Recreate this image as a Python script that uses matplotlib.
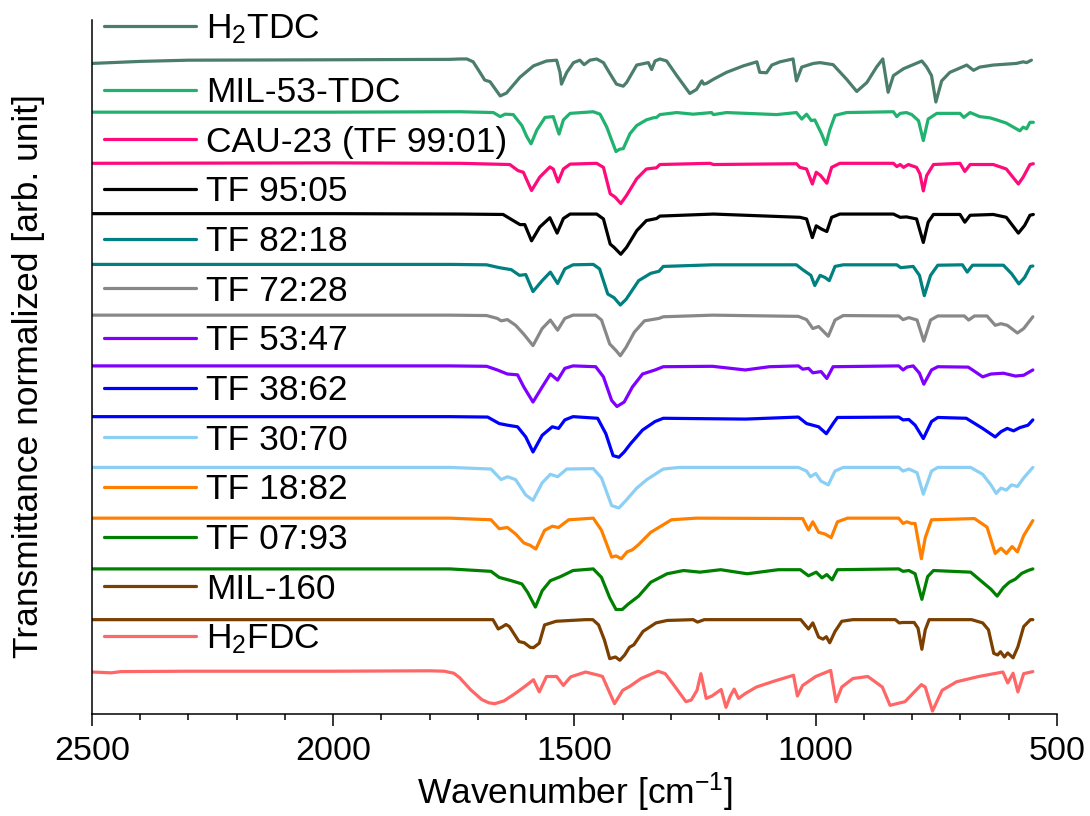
import matplotlib
matplotlib.use("Agg")
import matplotlib.pyplot as plt
from matplotlib.ticker import MultipleLocator

plt.rcParams['font.family'] = ['Liberation Sans', 'DejaVu Sans']
plt.rcParams['mathtext.fontset'] = 'custom'
plt.rcParams['mathtext.rm'] = 'Liberation Sans'
plt.rcParams['mathtext.it'] = 'Liberation Sans:italic'
plt.rcParams['mathtext.default'] = 'regular'

# normalized transmittance (1 = baseline, 0 = deepest band)
h2tdc_wn = [2500, 2400, 2300, 2000, 1760, 1737, 1723, 1710, 1696, 1686, 1675, 1654, 1641, 1613, 1585, 1558, 1537, 1530, 1527,
            1516, 1502, 1489, 1480, 1468, 1454, 1440, 1426, 1413, 1399, 1392, 1371, 1347, 1340, 1333, 1323, 1309, 1288,
            1261, 1247, 1236, 1232, 1226, 1212, 1185, 1150, 1122, 1116, 1102, 1091, 1074, 1047, 1040, 1029, 1005, 991,
            964, 936, 915, 894, 874, 861, 850, 839, 818, 780, 770, 760, 751, 739, 722, 687, 673, 660, 632, 584, 570,
            563, 553]
h2tdc_t = [0.95, 1.0, 1.03, 1.04, 1.05, 1.06, 1.06, 0.99, 0.73, 0.54, 0.50, 0.15, 0.22, 0.61, 0.89, 1.01, 1.03, 0.73, 0.44,
           0.73, 0.97, 1.03, 0.92, 1.03, 1.06, 0.97, 0.69, 0.44, 0.39, 0.48, 0.91, 0.97, 0.80, 1.01, 1.06, 1.01, 0.65,
           0.21, 0.31, 0.52, 0.44, 0.46, 0.56, 0.73, 0.89, 0.99, 0.73, 0.72, 0.91, 0.99, 1.06, 0.52, 0.86, 0.95, 0.97,
           0.92, 0.56, 0.26, 0.48, 0.86, 1.06, 0.24, 0.65, 0.82, 1.01, 0.86, 0.65, 0.0, 0.52, 0.73, 0.91, 0.78, 0.86,
           0.91, 0.95, 0.99, 0.97, 1.03]

mil53_wn = [2500, 2000, 1737, 1668, 1654, 1644, 1627, 1609, 1599, 1590, 1578, 1561, 1544, 1532, 1523, 1509, 1461, 1447,
            1433, 1423, 1414, 1406, 1399, 1385, 1371, 1351, 1337, 1330, 1323, 1288, 1254, 1216, 1212, 1185, 1081, 1040,
            1029, 1019, 1009, 1002, 988, 979, 971, 960, 936, 839, 832, 825, 812, 801, 787, 777, 767, 749, 701, 693, 680,
            660, 639, 625, 605, 577, 570, 563, 556, 549]
mil53_t = [1.0, 1.0, 1.01, 0.99, 0.89, 0.95, 0.94, 0.67, 0.40, 0.22, 0.56, 0.87, 0.89, 0.46, 0.81, 0.97, 1.01, 0.95,
           0.63, 0.31, 0.03, 0.09, 0.10, 0.47, 0.67, 0.81, 0.86, 0.87, 0.94, 0.99, 0.95, 0.99, 0.94, 0.99, 0.94, 0.99,
           0.83, 0.95, 0.79, 0.81, 0.47, 0.20, 0.56, 0.92, 0.99, 1.01, 0.89, 0.97, 0.99, 0.94, 0.79, 0.30, 0.83, 0.97,
           0.97, 0.87, 0.99, 0.89, 0.86, 0.81, 0.73, 0.54, 0.63, 0.59, 0.75, 0.75]

cau23_wn = [2500, 2000, 1737, 1634, 1617, 1606, 1589, 1572, 1551, 1544, 1534, 1523, 1509, 1454, 1440, 1426, 1416, 1404,
            1392, 1371, 1351, 1330, 1323, 1219, 1212, 1040, 1033, 1019, 1007, 999, 990, 977, 967, 950, 839, 832, 825,
            818, 808, 791, 784, 777, 770, 756, 701, 691, 680, 632, 605, 580, 570, 556, 549]
cau23_t = [0.99, 1.0, 0.99, 0.96, 0.81, 0.77, 0.32, 0.65, 0.90, 0.85, 0.53, 0.85, 0.97, 0.99, 0.89, 0.24, 0.16, 0.0,
           0.20, 0.61, 0.85, 0.88, 0.96, 0.99, 0.96, 0.98, 0.89, 0.85, 0.48, 0.77, 0.69, 0.50, 0.89, 0.99, 0.99, 0.91,
           0.96, 0.89, 0.96, 0.89, 0.73, 0.31, 0.69, 0.96, 0.99, 0.79, 0.96, 0.96, 0.85, 0.48, 0.65, 0.96, 0.98]

tf9505_wn = [2500, 2000, 1737, 1648, 1627, 1613, 1603, 1589, 1572, 1551, 1536, 1523, 1509, 1454, 1440, 1426, 1418, 1404,
             1392, 1371, 1351, 1330, 1323, 1212, 1033, 1019, 1007, 999, 988, 977, 967, 950, 839, 825, 812, 791, 777,
             767, 756, 701, 691, 680, 632, 605, 580, 567, 556, 549]
tf9505_t = [1.0, 1.0, 0.99, 0.98, 0.83, 0.73, 0.73, 0.33, 0.67, 0.90, 0.52, 0.88, 0.99, 0.99, 0.87, 0.25, 0.17, 0.0,
            0.17, 0.58, 0.83, 0.88, 0.94, 0.99, 0.91, 0.87, 0.41, 0.70, 0.62, 0.56, 0.91, 0.99, 0.99, 0.91, 0.92, 0.87,
            0.29, 0.79, 0.98, 0.98, 0.79, 0.96, 0.98, 0.91, 0.52, 0.71, 0.96, 0.98]

tf8218_wn = [2500, 2000, 1758, 1682, 1656, 1631, 1614, 1601, 1586, 1567, 1550, 1535, 1520, 1503, 1461, 1448, 1431, 1418,
             1405, 1393, 1367, 1342, 1325, 1316, 1214, 1040, 1027, 1010, 1002, 991, 981, 972, 960, 943, 832, 824, 815,
             798, 785, 775, 762, 747, 696, 686, 675, 611, 594, 579, 567, 555, 550]
tf8218_t = [1.0, 1.0, 1.0, 0.99, 0.92, 0.87, 0.73, 0.75, 0.33, 0.60, 0.81, 0.53, 0.89, 0.99, 1.0, 0.89, 0.27, 0.18,
            0.0, 0.14, 0.60, 0.78, 0.83, 0.95, 0.99, 0.99, 0.87, 0.73, 0.48, 0.73, 0.68, 0.60, 0.95, 0.99, 0.99, 0.92,
            0.93, 0.95, 0.73, 0.23, 0.73, 0.98, 0.99, 0.81, 0.98, 0.98, 0.77, 0.52, 0.68, 0.95, 0.96]

tf7228_wn = [2500, 2000, 1758, 1682, 1660, 1652, 1639, 1622, 1605, 1586, 1567, 1550, 1535, 1520, 1503, 1456, 1444, 1427,
             1414, 1405, 1393, 1376, 1355, 1325, 1316, 1214, 1036, 1019, 1006, 994, 974, 960, 943, 828, 819, 807, 790,
             776, 762, 747, 692, 683, 671, 645, 628, 616, 603, 582, 569, 550]
tf7228_t = [1.0, 1.0, 1.0, 0.99, 0.92, 0.86, 0.89, 0.75, 0.53, 0.25, 0.67, 0.88, 0.63, 0.92, 1.0, 1.0, 0.88, 0.29,
            0.13, 0.0, 0.21, 0.58, 0.86, 0.92, 0.96, 1.0, 0.97, 0.89, 0.67, 0.72, 0.48, 0.88, 0.99, 0.98, 0.89, 0.94,
            0.88, 0.36, 0.88, 0.98, 0.98, 0.88, 0.98, 0.98, 0.75, 0.79, 0.75, 0.56, 0.67, 0.96]

tf5347_wn = [2500, 2000, 1758, 1682, 1660, 1639, 1618, 1605, 1586, 1567, 1550, 1535, 1520, 1503, 1456, 1440, 1423, 1412,
             1397, 1380, 1359, 1333, 1316, 1214, 1146, 1096, 1036, 1027, 1015, 1006, 989, 977, 964, 828, 819, 811, 798,
             785, 776, 760, 747, 684, 675, 654, 637, 611, 586, 569, 556, 550]
tf5347_t = [1.0, 1.0, 1.0, 0.99, 0.90, 0.80, 0.78, 0.48, 0.11, 0.48, 0.80, 0.65, 0.94, 1.0, 0.98, 0.73, 0.15, 0.0,
            0.11, 0.48, 0.80, 0.90, 0.98, 0.99, 0.90, 0.98, 1.0, 0.92, 0.94, 0.83, 0.86, 0.69, 0.98, 1.0, 0.90, 0.97,
            1.0, 0.82, 0.55, 0.90, 0.98, 0.97, 0.90, 0.73, 0.80, 0.82, 0.75, 0.77, 0.86, 0.90]

tf3862_wn = [2500, 2000, 1758, 1680, 1656, 1639, 1618, 1601, 1586, 1567, 1546, 1533, 1520, 1503, 1452, 1435, 1420, 1408,
             1397, 1384, 1359, 1333, 1316, 1146, 1036, 1019, 994, 978, 964, 955, 828, 819, 807, 794, 777, 760, 747,
             688, 654, 628, 616, 603, 590, 577, 560, 550]
tf3862_t = [1.0, 1.0, 1.0, 0.99, 0.83, 0.79, 0.75, 0.50, 0.13, 0.54, 0.75, 0.71, 0.92, 1.0, 0.96, 0.58, 0.04, 0.0,
            0.13, 0.33, 0.67, 0.88, 0.96, 0.94, 0.99, 0.83, 0.75, 0.58, 0.83, 0.98, 0.99, 0.92, 0.93, 0.79, 0.46, 0.88,
            0.98, 0.96, 0.71, 0.50, 0.63, 0.71, 0.65, 0.73, 0.79, 0.92]

tf3070_wn = [2500, 2000, 1758, 1673, 1652, 1639, 1622, 1601, 1586, 1567, 1550, 1535, 1516, 1461, 1444, 1423, 1408, 1393,
             1371, 1350, 1316, 1282, 1036, 1019, 1011, 1000, 989, 974, 960, 943, 828, 819, 807, 790, 777, 760, 747, 679,
             654, 637, 626, 616, 605, 594, 582, 569, 550]
tf3070_t = [1.0, 1.0, 1.0, 0.96, 0.70, 0.77, 0.70, 0.32, 0.19, 0.62, 0.83, 0.77, 0.96, 0.97, 0.74, 0.06, 0.0, 0.19,
            0.49, 0.70, 0.96, 1.0, 1.0, 0.91, 0.77, 0.85, 0.66, 0.57, 0.91, 1.0, 1.0, 0.91, 0.96, 0.87, 0.34, 0.91, 1.0,
            1.0, 0.83, 0.57, 0.36, 0.49, 0.44, 0.57, 0.53, 0.74, 1.0]

tf1882_wn = [2500, 2000, 1758, 1673, 1656, 1639, 1622, 1605, 1592, 1580, 1562, 1546, 1533, 1512, 1461, 1444, 1423, 1414,
             1403, 1391, 1380, 1367, 1342, 1299, 1248, 1027, 1015, 1006, 994, 981, 968, 955, 934, 828, 819, 811, 802,
             794, 781, 773, 760, 671, 645, 628, 616, 605, 593, 582, 569, 550]
tf1882_t = [1.0, 1.0, 1.0, 0.96, 0.74, 0.77, 0.61, 0.39, 0.33, 0.24, 0.70, 0.80, 0.77, 0.96, 1.0, 0.70, 0.04, 0.07,
            0.0, 0.17, 0.22, 0.35, 0.65, 0.96, 1.0, 0.99, 0.71, 0.91, 0.65, 0.61, 0.52, 0.91, 1.0, 1.0, 0.87, 0.91,
            0.87, 0.87, 0.0, 0.52, 0.96, 0.99, 0.78, 0.13, 0.26, 0.13, 0.30, 0.17, 0.57, 0.94]

tf0793_wn = [2500, 2000, 1758, 1673, 1656, 1631, 1609, 1597, 1581, 1567, 1550, 1529, 1503, 1461, 1444, 1427, 1414, 1401,
             1389, 1367, 1342, 1308, 1274, 1240, 1197, 1142, 1078, 1032, 1015, 999, 987, 977, 966, 955, 828, 819, 807,
             794, 780, 768, 756, 679, 654, 637, 624, 611, 599, 586, 573, 560, 550]
tf0793_t = [1.0, 1.0, 1.0, 0.94, 0.79, 0.71, 0.63, 0.42, 0.06, 0.46, 0.71, 0.81, 0.96, 1.0, 0.79, 0.29, 0.0, 0.0,
            0.13, 0.33, 0.67, 0.88, 0.96, 0.92, 0.98, 0.88, 0.98, 0.98, 0.83, 0.92, 0.78, 0.86, 0.73, 0.98, 1.0, 0.94,
            0.96, 0.88, 0.25, 0.81, 0.96, 0.92, 0.67, 0.50, 0.33, 0.54, 0.67, 0.75, 0.89, 0.96, 1.0]

mil160_wn = [2500, 2000, 1738, 1669, 1658, 1650, 1642, 1635, 1615, 1604, 1592, 1585, 1573, 1562, 1538, 1508, 1477, 1462,
             1450, 1438, 1427, 1415, 1406, 1396, 1386, 1377, 1358, 1331, 1308, 1254, 1245, 1231, 1031, 1022, 1015, 1006,
             994, 985, 978, 971, 960, 946, 923, 835, 827, 819, 796, 788, 780, 773, 765, 677, 654, 642, 631, 623, 617,
             609, 602, 591, 581, 569, 555, 550]
mil160_t = [1.0, 1.0, 1.0, 1.0, 0.77, 0.82, 0.88, 0.83, 0.46, 0.43, 0.32, 0.31, 0.42, 0.87, 0.96, 0.98, 1.0, 1.0,
            0.87, 0.50, 0.04, 0.08, 0.0, 0.13, 0.32, 0.38, 0.71, 0.92, 0.98, 1.0, 0.94, 1.0, 1.0, 0.87, 0.77, 0.92,
            0.57, 0.52, 0.58, 0.43, 0.71, 0.96, 1.0, 1.0, 0.92, 0.93, 0.93, 0.79, 0.27, 0.75, 1.0, 1.0, 0.92, 0.75,
            0.17, 0.13, 0.21, 0.08, 0.18, 0.06, 0.33, 0.83, 1.0, 1.0]

h2fdc_wn = [2500, 2460, 2440, 2300, 2000, 1800, 1770, 1750, 1738, 1715, 1692, 1677, 1665, 1646, 1623, 1600, 1585, 1573,
            1558, 1537, 1523, 1508, 1477, 1450, 1442, 1417, 1400, 1385, 1362, 1327, 1312, 1296, 1269, 1258, 1246, 1238,
            1227, 1215, 1196, 1186, 1177, 1169, 1160, 1146, 1123, 1085, 1046, 1038, 1027, 1000, 969, 958, 946, 923, 892,
            862, 846, 815, 781, 773, 758, 738, 708, 662, 612, 602, 591, 581, 569, 550]
h2fdc_t = [0.96, 0.94, 0.97, 0.98, 0.98, 0.99, 0.98, 0.93, 0.82, 0.52, 0.28, 0.20, 0.18, 0.25, 0.43, 0.63, 0.77, 0.47,
           0.85, 0.85, 0.63, 0.84, 0.96, 0.88, 0.85, 0.18, 0.51, 0.61, 0.80, 0.98, 0.92, 0.67, 0.23, 0.27, 0.51, 0.92,
           0.31, 0.37, 0.53, 0.09, 0.37, 0.54, 0.31, 0.43, 0.59, 0.74, 0.88, 0.37, 0.63, 0.85, 1.0, 0.23, 0.59, 0.80,
           0.85, 0.59, 0.14, 0.23, 0.65, 0.59, 0.0, 0.51, 0.72, 0.85, 0.96, 0.69, 0.93, 0.47, 0.92, 0.97]

labels = ['H$_2$TDC', 'MIL-53-TDC', 'CAU-23 (TF 99:01)', 'TF 95:05', 'TF 82:18', 'TF 72:28', 'TF 53:47',
          'TF 38:62', 'TF 30:70', 'TF 18:82', 'TF 07:93', 'MIL-160', 'H$_2$FDC']
colors = ['#4b7d6b', '#21b26f', '#ff0a7b', '#000000', '#008080', '#888888', '#8000ff',
          '#0000ff', '#8ccff5', '#ff8000', '#008000', '#7b3f00', '#ff6666']
spectra = [(h2tdc_wn, h2tdc_t), (mil53_wn, mil53_t), (cau23_wn, cau23_t), (tf9505_wn, tf9505_t),
           (tf8218_wn, tf8218_t), (tf7228_wn, tf7228_t), (tf5347_wn, tf5347_t), (tf3862_wn, tf3862_t),
           (tf3070_wn, tf3070_t), (tf1882_wn, tf1882_t), (tf0793_wn, tf0793_t), (mil160_wn, mil160_t),
           (h2fdc_wn, h2fdc_t)]

step = 1.25
n = len(spectra)

fig = plt.figure(figsize=(10.9, 8.16), dpi=100)
ax = fig.add_axes([0.0844, 0.125, 0.8853, 0.8505])

lines = []
for i, (wn, t) in enumerate(spectra):
    off = (n - 1 - i) * step
    ln, = ax.plot(wn, [v + off for v in t], color=colors[i], lw=2.3, label=labels[i],
                  solid_joinstyle='round', solid_capstyle='round')
    lines.append(ln)

ax.set_xlim(2500, 500)
ax.set_ylim(-0.074, 17.02)
ax.spines['top'].set_visible(False)
ax.spines['right'].set_visible(False)
ax.spines['left'].set_linewidth(1.1)
ax.spines['bottom'].set_linewidth(1.1)
ax.xaxis.set_major_locator(MultipleLocator(500))
ax.xaxis.set_minor_locator(MultipleLocator(100))
ax.tick_params(axis='x', which='major', length=8.6, width=1.1, labelsize=24.5, pad=7)
ax.tick_params(axis='x', which='minor', length=4.3, width=1.1)
ax.set_yticks([])
ax.set_xlabel('Wavenumber [cm$^{\u2212 1}$]', fontsize=25.5, labelpad=3)
ax.set_ylabel('Transmittance normalized [arb. unit]', fontsize=25.5)
ax.yaxis.set_label_coords(-0.049, 0.487)

leg_kw = dict(frameon=False, fontsize=25.5, handlelength=2.6, handletextpad=0.28,
              borderaxespad=0.0, borderpad=0.35)
leg1 = ax.legend(lines[:1], labels[:1], loc='center left', bbox_to_anchor=(0.0, 0.987), **leg_kw)
ax.add_artist(leg1)
ax.legend(lines[1:], labels[1:], loc='center left', bbox_to_anchor=(0.0, 0.5014),
          labelspacing=0.47, **leg_kw)

fig.savefig('out.png', dpi=100)
